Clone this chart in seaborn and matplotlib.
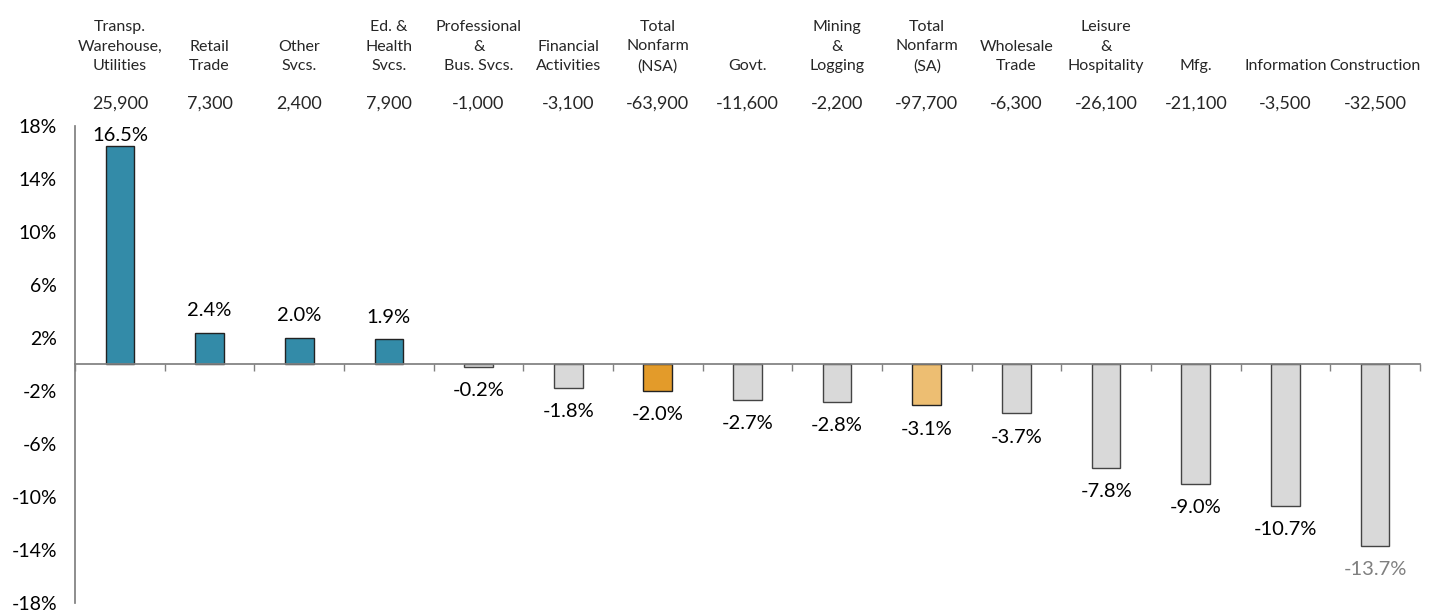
import numpy as np
import pandas as pd
import seaborn as sns
import matplotlib.pyplot as plt

# data
sectors = ['Transp.\nWarehouse,\nUtilities', 'Retail\nTrade', 'Other\nSvcs.', 'Ed. &\nHealth\nSvcs.',
           'Professional\n&\nBus. Svcs.', 'Financial\nActivities', 'Total\nNonfarm\n(NSA)', 'Govt.',
           'Mining\n&\nLogging', 'Total\nNonfarm\n(SA)', 'Wholesale\nTrade', 'Leisure\n&\nHospitality',
           'Mfg.', 'Information', 'Construction']
job_change = ['25,900', '7,300', '2,400', '7,900', '-1,000', '-3,100', '-63,900', '-11,600',
              '-2,200', '-97,700', '-6,300', '-26,100', '-21,100', '-3,500', '-32,500']
pct_change = [16.5, 2.4, 2.0, 1.9, -0.2, -1.8, -2.0, -2.7, -2.8, -3.1, -3.7, -7.8, -9.0, -10.7, -13.7]
y_ticks = [-18, -14, -10, -6, -2, 2, 6, 10, 14, 18]

TEAL = '#338ba8'
GREY = '#d9d9d9'
colors = []
for name, v in zip(sectors, pct_change):
    if '(NSA)' in name:
        colors.append('#e39b2a')
    elif '(SA)' in name:
        colors.append('#edbe72')
    elif v > 0:
        colors.append(TEAL)
    else:
        colors.append(GREY)

df = pd.DataFrame({'sector': sectors, 'pct': pct_change})

sns.set_theme(style='white')
plt.rcParams['font.family'] = ['Lato', 'DejaVu Sans']

fig, ax = plt.subplots(figsize=(14.35, 6.1), dpi=100)
fig.subplots_adjust(left=0.0523, right=0.9895, top=0.793, bottom=0.012)

sns.barplot(data=df, x='sector', y='pct', hue='sector', palette=colors, legend=False,
            width=0.32, saturation=1, ax=ax)

for cont, c in zip(ax.containers, colors):
    for bar in cont:
        bar.set_edgecolor('#222222' if c != GREY else '#444444')
        bar.set_linewidth(1.0)

ax.set_xlim(-0.5, len(sectors) - 0.5)
ax.set_ylim(-18, 18)
ax.set_yticks(y_ticks)
ax.set_yticklabels([f'{t}%' for t in y_ticks], fontsize=14, color='black')
ax.tick_params(axis='y', length=0, pad=13)

# x axis sits at zero, ticks between categories
ax.spines['bottom'].set_position(('data', 0))
ax.spines['bottom'].set_color('#808080')
ax.spines['left'].set_color('#808080')
ax.spines['top'].set_visible(False)
ax.spines['right'].set_visible(False)
ax.set_xticks([])
ax.set_xticks(np.arange(-0.5, len(sectors)), minor=True)
ax.tick_params(axis='x', which='minor', direction='out', length=5, color='#808080', bottom=True)
ax.set_xlabel('')
ax.set_ylabel('')

# headers above the plot
for i, (name, jobs) in enumerate(zip(sectors, job_change)):
    ax.annotate(name, xy=(i, 1), xycoords=('data', 'axes fraction'), xytext=(0, 38),
                textcoords='offset points', ha='center', va='bottom', fontsize=11.5,
                linespacing=1.5)
    ax.annotate(jobs, xy=(i, 1), xycoords=('data', 'axes fraction'), xytext=(0, 16),
                textcoords='offset points', ha='center', va='center', fontsize=13)

# value labels
for i, v in enumerate(pct_change):
    if v > 0:
        off = 8 if v > 15 else 16
    else:
        off = -17
    col = '#7f7f7f' if i == len(pct_change) - 1 else 'black'
    ax.annotate(f'{v:.1f}%', xy=(i, v), xytext=(0, off), textcoords='offset points',
                ha='center', va='center', fontsize=14.5, color=col)

plt.savefig('out.png', dpi=100, facecolor='white')
